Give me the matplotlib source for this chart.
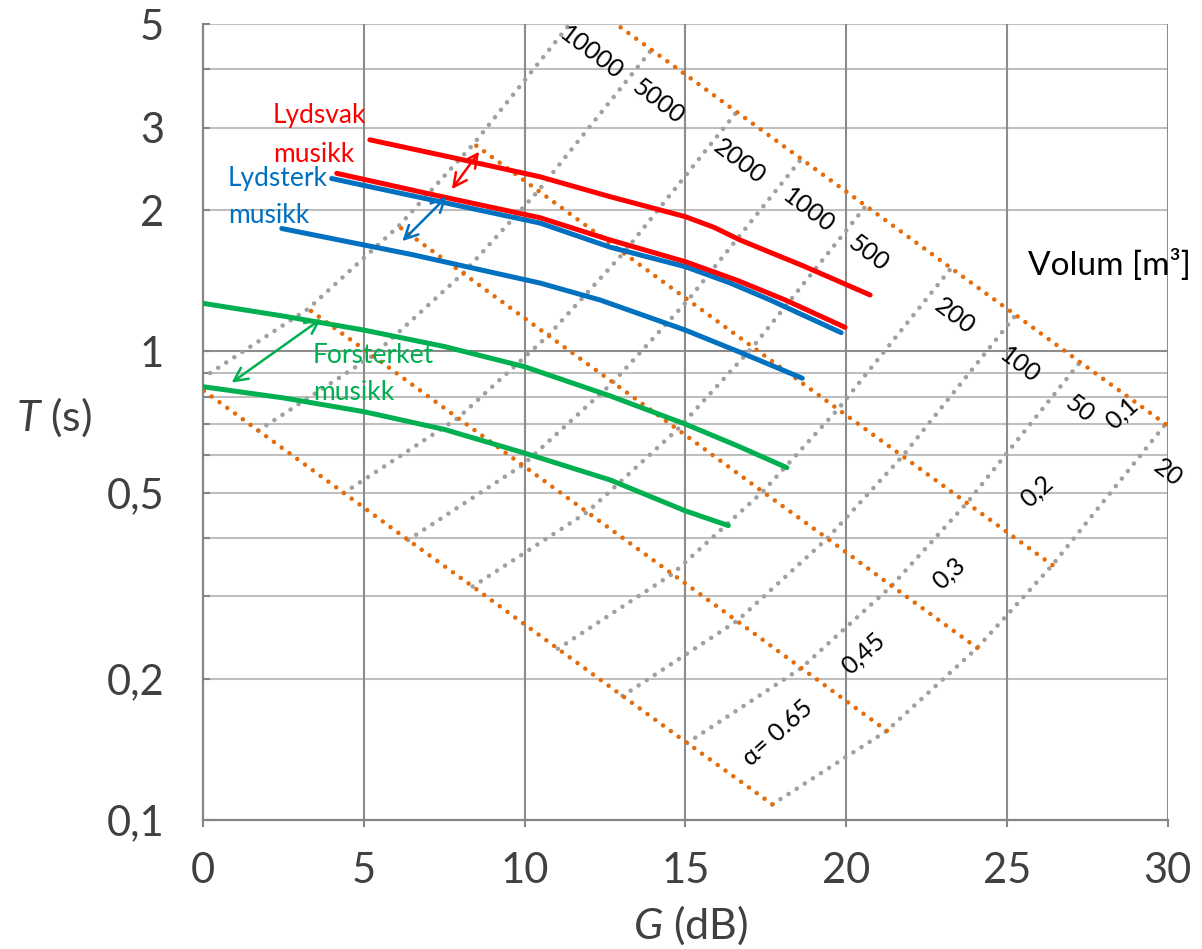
import matplotlib
matplotlib.use("Agg")
import matplotlib.pyplot as plt

plt.rcParams['font.family'] = ['Lato', 'DejaVu Sans']
plt.rcParams['mathtext.fontset'] = 'custom'
plt.rcParams['mathtext.it'] = 'Lato:italic'
plt.rcParams['mathtext.rm'] = 'Lato'

# ---------------- data ----------------
volume_values = [20, 50, 100, 200, 500, 1000, 2000, 5000, 10000]
volume_labels = ["20", "50", "100", "200", "500", "1000", "2000", "5000", "10000"]
alpha_values = [0.65, 0.45, 0.3, 0.2, 0.1]
alpha_labels = ["\u03b1= 0.65", "0,45", "0,3", "0,2", "0,1"]

# grid of (G, T) points: one row per absorption coefficient, one column per volume
G_a065 = [17.71, 15.06, 13.05, 11.04, 8.39, 6.38, 4.38, 1.72, -0.28]
T_a065 = [0.108, 0.146, 0.184, 0.232, 0.315, 0.396, 0.499, 0.678, 0.854]
G_a045 = [21.27, 18.61, 16.61, 14.60, 11.95, 9.94, 7.93, 5.28, 3.27]
T_a045 = [0.155, 0.211, 0.266, 0.335, 0.454, 0.572, 0.721, 0.979, 1.233]
G_a030 = [24.08, 21.42, 19.42, 17.41, 14.76, 12.75, 10.74, 8.09, 6.08]
T_a030 = [0.233, 0.316, 0.399, 0.502, 0.682, 0.859, 1.082, 1.468, 1.850]
G_a020 = [26.42, 23.76, 21.76, 19.75, 17.10, 15.09, 13.08, 10.43, 8.42]
T_a020 = [0.350, 0.475, 0.598, 0.753, 1.022, 1.288, 1.623, 2.203, 2.775]
G_a010 = [29.94, 27.28, 25.28, 23.27, 20.62, 18.61, 16.60, 13.95, 11.94]
T_a010 = [0.700, 0.949, 1.196, 1.506, 2.045, 2.576, 3.246, 4.405, 5.550]

# music curves
G_svak_hi = [5.19, 7.8, 10.48, 12.66, 15.0, 15.9, 16.70, 18.7, 20.75]
T_svak_hi = [2.83, 2.59, 2.36, 2.14, 1.94, 1.84, 1.73, 1.52, 1.32]
G_svak_lo = [4.16, 7.3, 10.48, 12.66, 15.0, 16.6, 18.11, 19.97]
T_svak_lo = [2.40, 2.15, 1.93, 1.73, 1.555, 1.42, 1.288, 1.126]
G_sterk_hi = [4.0, 7.2, 10.48, 12.66, 15.0, 16.4, 17.64, 19.85]
T_sterk_hi = [2.34, 2.10, 1.88, 1.67, 1.517, 1.40, 1.288, 1.097]
G_sterk_lo = [2.45, 6.5, 10.48, 12.35, 15.0, 16.8, 18.64]
T_sterk_lo = [1.83, 1.61, 1.40, 1.288, 1.111, 0.99, 0.877]
G_forst_hi = [0.0, 2.5, 5.0, 7.5, 10.0, 12.66, 15.0, 16.6, 18.16]
T_forst_hi = [1.267, 1.19, 1.111, 1.025, 0.928, 0.804, 0.70, 0.63, 0.565]
G_forst_lo = [0.0, 2.5, 5.0, 7.5, 10.0, 12.66, 15.0, 16.34]
T_forst_lo = [0.841, 0.796, 0.744, 0.682, 0.607, 0.532, 0.457, 0.425]

# double arrows (start, end)
arrow_svak_G = [7.74, 8.59]
arrow_svak_T = [2.22, 2.67]
arrow_sterk_G = [6.20, 7.58]
arrow_sterk_T = [1.72, 2.14]
arrow_forst_G = [0.89, 3.67]
arrow_forst_T = [0.858, 1.173]

# label anchor points
vol_label_G = [30.03, 27.28, 25.41, 23.39, 20.70, 18.83, 16.70, 14.16, 12.09]
vol_label_T = [0.55, 0.756, 0.936, 1.187, 1.62, 2.00, 2.54, 3.41, 4.33]
alpha_label_G = [17.88, 20.53, 23.19, 25.93, 28.58]
alpha_label_T = [0.1534, 0.2272, 0.3366, 0.502, 0.739]

x_ticks = [0, 5, 10, 15, 20, 25, 30]
y_ticks = [0.1, 0.2, 0.5, 1, 2, 3, 5]
y_ticklabels = ["0,1", "0,2", "0,5", "1", "2", "3", "5"]
y_minor = [0.3, 0.4, 0.6, 0.7, 0.8, 0.9, 4]
y_gridlines = [0.2, 0.3, 0.4, 0.5, 0.6, 0.7, 0.8, 0.9, 1, 2, 3, 4, 5]

# ---------------- styles ----------------
RED = '#FF0000'
BLUE = '#0070C0'
GREEN = '#00B050'
ORANGE = '#E46C0A'
GREY_DOT = '#A0A0A0'
GRID_DARK = '#8C8C8C'
GRID_LIGHT = '#BFBFBF'
TXT = '#404040'

fig = plt.figure(figsize=(12.02, 9.49), dpi=100)
ax = fig.add_axes([203 / 1202, 1 - 820 / 949, (1167.5 - 203) / 1202, (820 - 24) / 949])
ax.set_yscale('log')
ax.set_xlim(0, 30)
ax.set_ylim(0.1, 5)

# grid
for y in y_gridlines:
    ax.axhline(y, color=GRID_DARK if y == 1 else GRID_LIGHT, lw=1.5, zorder=0.5)
for x in x_ticks[1:]:
    ax.axvline(x, color=GRID_DARK, lw=1.5, zorder=0.6)

for s in ['top', 'right']:
    ax.spines[s].set_visible(False)
for s in ['left', 'bottom']:
    ax.spines[s].set_color('#868686')
    ax.spines[s].set_linewidth(1.6)

ax.set_xticks(x_ticks)
ax.set_xticklabels([str(v) for v in x_ticks])
ax.set_yticks(y_ticks)
ax.set_yticklabels(y_ticklabels)
ax.set_yticks(y_minor, minor=True)
ax.yaxis.set_minor_formatter(matplotlib.ticker.NullFormatter())
ax.tick_params(axis='x', direction='out', length=5, width=1.5, color='#868686',
               labelsize=30, labelcolor=TXT, pad=18)
ax.tick_params(axis='y', which='both', direction='in', length=5, width=1.5,
               color='#868686', labelsize=30, labelcolor=TXT, pad=28)

# dotted theory lines
dot_style = dict(lw=3.3, linestyle=(0, (0.001, 2.1)), dash_capstyle='round', solid_capstyle='round')
G_rows = [G_a065, G_a045, G_a030, G_a020, G_a010]
T_rows = [T_a065, T_a045, T_a030, T_a020, T_a010]
for j in range(len(volume_values)):
    ax.plot([row[j] for row in G_rows], [row[j] for row in T_rows], color=GREY_DOT, zorder=2, **dot_style)
for Gr, Tr in zip(G_rows, T_rows):
    ax.plot(Gr, Tr, color=ORANGE, zorder=2.1, **dot_style)

# music curves
lw_c = 3.6
ax.plot(G_svak_hi, T_svak_hi, color=RED, lw=lw_c, solid_capstyle='round', solid_joinstyle='round', zorder=4)
ax.plot(G_sterk_hi, T_sterk_hi, color=BLUE, lw=lw_c, solid_capstyle='round', solid_joinstyle='round', zorder=3.9)
ax.plot(G_svak_lo, T_svak_lo, color=RED, lw=lw_c, solid_capstyle='round', solid_joinstyle='round', zorder=4)
ax.plot(G_sterk_lo, T_sterk_lo, color=BLUE, lw=lw_c, solid_capstyle='round', solid_joinstyle='round', zorder=4)
ax.plot(G_forst_hi, T_forst_hi, color=GREEN, lw=lw_c, solid_capstyle='round', solid_joinstyle='round', zorder=4)
ax.plot(G_forst_lo, T_forst_lo, color=GREEN, lw=lw_c, solid_capstyle='round', solid_joinstyle='round', zorder=4)

for aG, aT, c in [(arrow_svak_G, arrow_svak_T, RED), (arrow_sterk_G, arrow_sterk_T, BLUE),
                  (arrow_forst_G, arrow_forst_T, GREEN)]:
    ax.annotate('', xy=(aG[1], aT[1]), xytext=(aG[0], aT[0]),
                arrowprops=dict(arrowstyle='<->', color=c, lw=1.8, mutation_scale=24,
                                shrinkA=0, shrinkB=0), zorder=5)

# labels
lab_fs = 19
ax.text(2.18, 3.07, "Lydsvak", color=RED, fontsize=lab_fs, va='baseline', ha='left', zorder=6)
ax.text(2.18, 2.54, "musikk", color=RED, fontsize=lab_fs, va='baseline', ha='left', zorder=6)
ax.text(0.78, 2.256, "Lydsterk", color=BLUE, fontsize=lab_fs, va='baseline', ha='left', zorder=6)
ax.text(0.78, 1.88, "musikk", color=BLUE, fontsize=lab_fs, va='baseline', ha='left', zorder=6)
ax.text(3.42, 0.945, "Forsterket", color=GREEN, fontsize=lab_fs, va='baseline', ha='left', zorder=6)
ax.text(3.42, 0.788, "musikk", color=GREEN, fontsize=lab_fs, va='baseline', ha='left', zorder=6)

for g, t, lab in zip(vol_label_G, vol_label_T, volume_labels):
    ax.text(g, t, lab, fontsize=18, rotation=-37, ha='center', va='center', color='black',
            rotation_mode='anchor', zorder=6)
for g, t, lab in zip(alpha_label_G, alpha_label_T, alpha_labels):
    ax.text(g, t, lab, fontsize=18, rotation=42, ha='center', va='center', color='black',
            rotation_mode='anchor', zorder=6)

ax.text(25.66, 1.53, "Volum [m\u00b3]", fontsize=24, ha='left', va='center', color='black', zorder=6)

fig.text(54 / 1202, 1 - 417 / 949, r'$\mathit{T}$ (s)', fontsize=31, ha='center', va='center', color=TXT)
fig.text(691 / 1202, 1 - 925 / 949, r'$\mathit{G}$ (dB)', fontsize=31, ha='center', va='center', color=TXT)

fig.savefig('out.png', dpi=100)
